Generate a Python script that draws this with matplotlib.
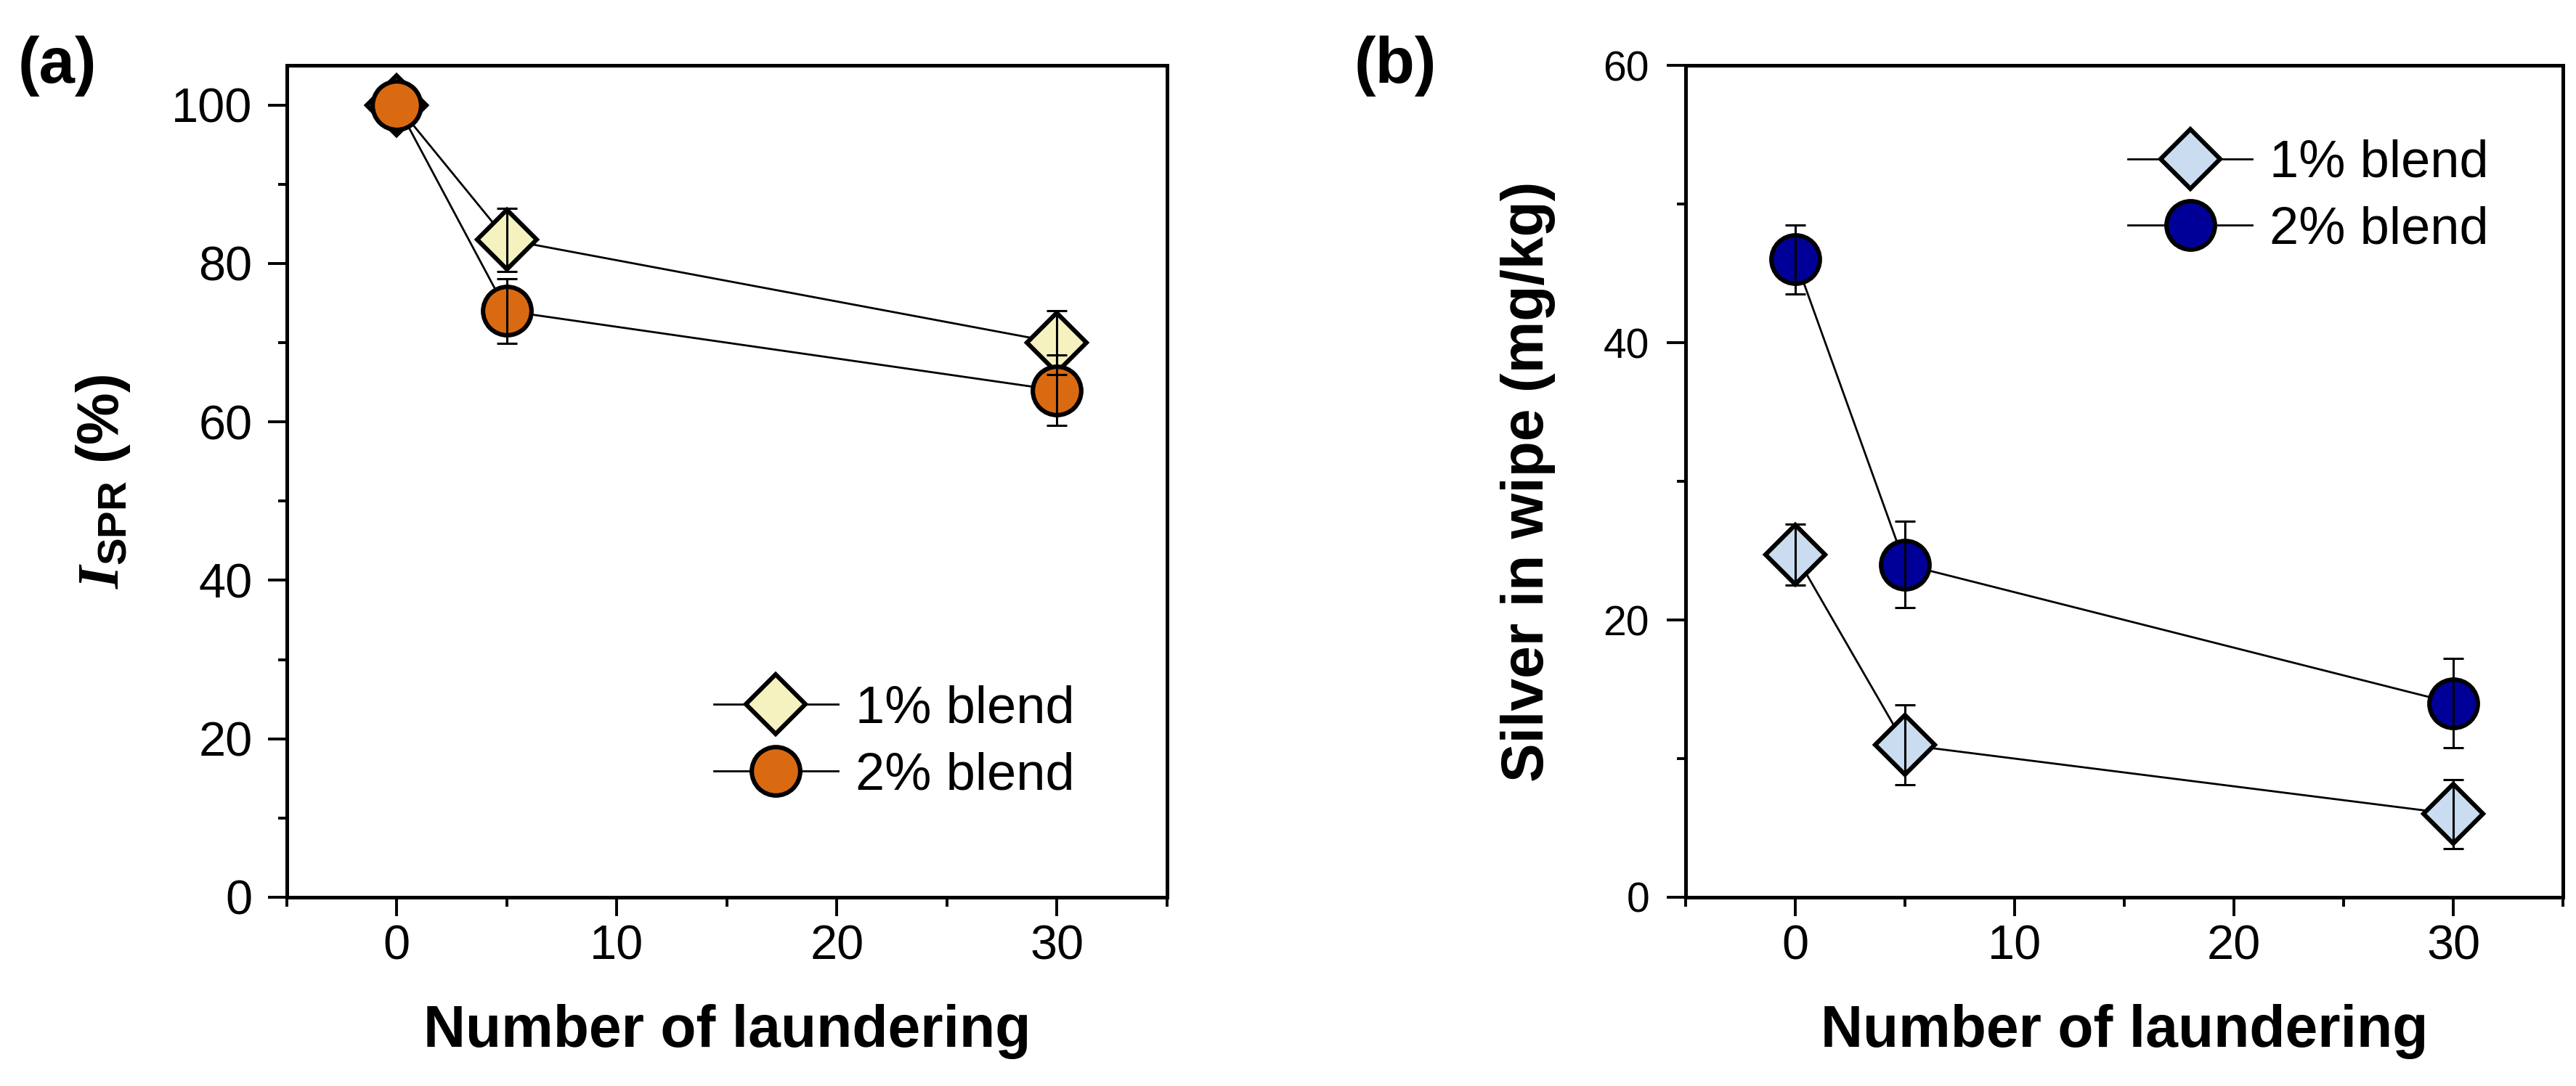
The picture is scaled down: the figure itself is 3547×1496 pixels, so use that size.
"""Silver retention after repeated laundering: SPR intensity and silver content in wipes."""
import matplotlib

matplotlib.use("Agg")

import matplotlib.pyplot as plt  # noqa: E402
import numpy as np  # noqa: E402
from matplotlib.ticker import MultipleLocator  # noqa: E402

plt.rcParams["font.family"] = ["Liberation Sans", "DejaVu Sans"]
plt.rcParams["mathtext.fontset"] = "custom"
plt.rcParams["mathtext.it"] = "Liberation Serif:bold:italic"
plt.rcParams["mathtext.bf"] = "Liberation Sans:bold"
plt.rcParams["mathtext.rm"] = "Liberation Sans:bold"

# --- data ---
laundering = [0, 5, 30]
blend_labels = ["1% blend", "2% blend"]

# intensity is normalised to 100 % before laundering, so no error bar there
ispr_1pct = [100, 83, 70]
ispr_1pct_err = [np.nan, 4.0, 4.0]
ispr_2pct = [100, 74, 64]
ispr_2pct_err = [np.nan, 4.1, 4.4]

silver_1pct = [24.7, 11.0, 6.0]
silver_1pct_err = [2.2, 2.9, 2.5]
silver_2pct = [46.0, 24.0, 14.0]
silver_2pct_err = [2.5, 3.1, 3.2]

LABEL_SIZE = 29
LEGEND_SIZE = 26


def style_axes(ax, ymax, ymajor, ytick_size, ypad):
    ax.set_xlim(-5, 35)
    ax.set_ylim(0, ymax)
    ax.xaxis.set_major_locator(MultipleLocator(10))
    ax.xaxis.set_minor_locator(MultipleLocator(5))
    ax.yaxis.set_major_locator(MultipleLocator(ymajor))
    ax.yaxis.set_minor_locator(MultipleLocator(ymajor / 2))
    for spine in ax.spines.values():
        spine.set_linewidth(1.8)
    ax.tick_params(which="major", direction="out", length=9.5, width=1.4)
    ax.tick_params(which="minor", direction="out", length=4.5, width=1.4)
    ax.tick_params(axis="x", which="major", labelsize=24, pad=4)
    ax.tick_params(axis="y", which="major", labelsize=ytick_size, pad=ypad)
    ax.tick_params(top=False, right=False, which="both")
    ax.set_xlabel("Number of laundering", fontsize=LABEL_SIZE, fontweight="bold")
    ax.xaxis.set_label_coords(0.5, -0.128)


def draw_series(ax, y, yerr, marker, ms, face, z):
    (line,) = ax.plot(laundering, y, color="black", lw=1.0, marker=marker, ms=ms,
                      mfc=face, mec="black", mew=2.2, zorder=z)
    ax.errorbar(laundering, y, yerr=yerr, fmt="none", ecolor="black", elinewidth=1.1,
                capsize=5, capthick=1.1, zorder=6)
    return line


def add_legend(ax, handles, anchor):
    ax.legend(handles, blend_labels, loc="center left", bbox_to_anchor=anchor,
              frameon=False, fontsize=LEGEND_SIZE, handlelength=2.37, handletextpad=0.33,
              labelspacing=0.34, borderpad=0, borderaxespad=0)


fig = plt.figure(figsize=(17.74, 7.48), dpi=200)
ax_a = fig.add_axes([0.1113, 0.1738, 0.3416, 0.766])
ax_b = fig.add_axes([0.6542, 0.1738, 0.3405, 0.766])

# (a) SPR intensity
h1 = draw_series(ax_a, ispr_1pct, ispr_1pct_err, "D", 21, "#F6F2BF", 3)
h2 = draw_series(ax_a, ispr_2pct, ispr_2pct_err, "o", 24, "#DA6A12", 4)
style_axes(ax_a, 105, 20, 24, 7.5)
ax_a.set_ylabel(r"$\mathit{I}_{\mathbf{SPR}}$ (%)", fontsize=LABEL_SIZE, fontweight="bold")
ax_a.yaxis.set_label_coords(-0.176, 0.5)
add_legend(ax_a, [h1, h2], (0.485, 0.186))

# (b) silver in wipe
h1 = draw_series(ax_b, silver_1pct, silver_1pct_err, "D", 21, "#CADDF0", 3)
h2 = draw_series(ax_b, silver_2pct, silver_2pct_err, "o", 24, "#000099", 4)
style_axes(ax_b, 60, 20, 20.5, 8.5)
ax_b.set_ylabel("Silver in wipe (mg/kg)", fontsize=LABEL_SIZE, fontweight="bold")
ax_b.yaxis.set_label_coords(-0.148, 0.5)
add_legend(ax_b, [h1, h2], (0.504, 0.842))

fig.text(0.007, 0.9235, "(a)", fontsize=32, fontweight="bold", va="baseline", ha="left")
fig.text(0.5575, 0.9235, "(b)", fontsize=32, fontweight="bold", va="baseline", ha="right")

fig.savefig("out.png", dpi=200, facecolor="white")
